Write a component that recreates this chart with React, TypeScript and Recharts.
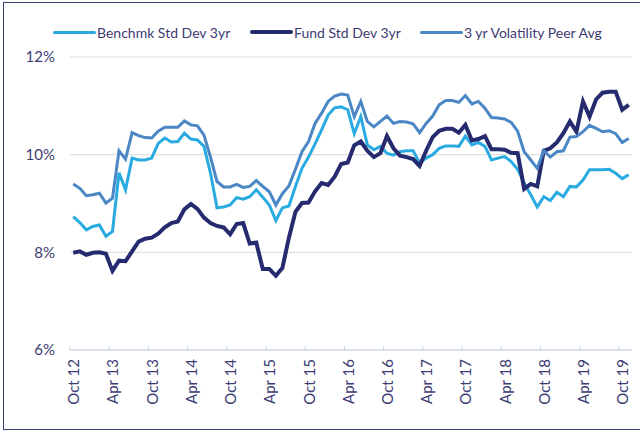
import React from 'react';
import { LineChart, Line, XAxis, YAxis, CartesianGrid, Legend } from 'recharts';

// monthly, Oct 12 .. Nov 19
const months = [
  'Oct 12', 'Nov 12', 'Dec 12',
  'Jan 13', 'Feb 13', 'Mar 13', 'Apr 13', 'May 13', 'Jun 13', 'Jul 13', 'Aug 13', 'Sep 13', 'Oct 13', 'Nov 13', 'Dec 13',
  'Jan 14', 'Feb 14', 'Mar 14', 'Apr 14', 'May 14', 'Jun 14', 'Jul 14', 'Aug 14', 'Sep 14', 'Oct 14', 'Nov 14', 'Dec 14',
  'Jan 15', 'Feb 15', 'Mar 15', 'Apr 15', 'May 15', 'Jun 15', 'Jul 15', 'Aug 15', 'Sep 15', 'Oct 15', 'Nov 15', 'Dec 15',
  'Jan 16', 'Feb 16', 'Mar 16', 'Apr 16', 'May 16', 'Jun 16', 'Jul 16', 'Aug 16', 'Sep 16', 'Oct 16', 'Nov 16', 'Dec 16',
  'Jan 17', 'Feb 17', 'Mar 17', 'Apr 17', 'May 17', 'Jun 17', 'Jul 17', 'Aug 17', 'Sep 17', 'Oct 17', 'Nov 17', 'Dec 17',
  'Jan 18', 'Feb 18', 'Mar 18', 'Apr 18', 'May 18', 'Jun 18', 'Jul 18', 'Aug 18', 'Sep 18', 'Oct 18', 'Nov 18', 'Dec 18',
  'Jan 19', 'Feb 19', 'Mar 19', 'Apr 19', 'May 19', 'Jun 19', 'Jul 19', 'Aug 19', 'Sep 19', 'Oct 19', 'Nov 19',
];

const benchmark = [
  8.73, 8.61, 8.46, 8.53, 8.56, 8.33, 8.43, 9.63, 9.28, 9.93,
  9.89, 9.89, 9.93, 10.23, 10.34, 10.26, 10.27, 10.44, 10.32, 10.30,
  10.17, 9.62, 8.91, 8.93, 8.97, 9.12, 9.09, 9.14, 9.28, 9.13,
  8.97, 8.65, 8.91, 8.95, 9.35, 9.72, 9.95, 10.22, 10.51, 10.81,
  10.96, 10.98, 10.92, 10.43, 10.78, 10.20, 10.10, 10.17, 10.03, 9.99,
  10.06, 10.08, 10.08, 9.83, 9.93, 10.00, 10.13, 10.18, 10.18, 10.17,
  10.38, 10.20, 10.25, 10.17, 9.89, 9.93, 9.96, 9.86, 9.70, 9.42,
  9.18, 8.93, 9.14, 9.06, 9.23, 9.14, 9.35, 9.34, 9.48, 9.69,
  9.69, 9.69, 9.70, 9.62, 9.51, 9.59,
];

const fund = [
  7.99, 8.02, 7.95, 7.99, 8.00, 7.97, 7.62, 7.83, 7.82, 8.02,
  8.22, 8.28, 8.30, 8.38, 8.51, 8.60, 8.63, 8.88, 8.99, 8.89,
  8.71, 8.60, 8.54, 8.51, 8.37, 8.58, 8.60, 8.18, 8.20, 7.66,
  7.66, 7.52, 7.68, 8.30, 8.83, 9.01, 9.02, 9.25, 9.42, 9.38,
  9.55, 9.81, 9.84, 10.19, 10.27, 10.08, 9.95, 10.03, 10.38, 10.13,
  9.98, 9.95, 9.91, 9.77, 10.08, 10.36, 10.49, 10.53, 10.53, 10.45,
  10.61, 10.29, 10.32, 10.38, 10.11, 10.11, 10.10, 10.04, 10.03, 9.30,
  9.40, 9.35, 10.08, 10.13, 10.25, 10.44, 10.68, 10.47, 11.09, 10.78,
  11.13, 11.27, 11.29, 11.29, 10.92, 11.02,
];

const peerAvg = [
  9.40, 9.31, 9.16, 9.18, 9.21, 9.01, 9.11, 10.08, 9.91, 10.45,
  10.39, 10.35, 10.34, 10.48, 10.56, 10.56, 10.56, 10.69, 10.61, 10.59,
  10.40, 9.95, 9.45, 9.34, 9.34, 9.39, 9.33, 9.35, 9.47, 9.35,
  9.24, 8.97, 9.20, 9.36, 9.70, 10.06, 10.27, 10.64, 10.85, 11.09,
  11.20, 11.24, 11.22, 10.78, 11.09, 10.68, 10.57, 10.68, 10.79, 10.64,
  10.68, 10.67, 10.63, 10.45, 10.64, 10.79, 11.02, 11.11, 11.11, 11.07,
  11.21, 11.04, 11.09, 10.95, 10.76, 10.75, 10.73, 10.66, 10.48, 10.06,
  9.89, 9.72, 10.08, 9.95, 10.06, 10.08, 10.36, 10.37, 10.47, 10.60,
  10.54, 10.47, 10.49, 10.43, 10.25, 10.33,
];

const yTicks = [6, 8, 10, 12];

const TEXT = '#3d3b73';
const FONT = 'Lato, "DejaVu Sans", sans-serif';

const series = [
  { key: 'bench', name: 'Benchmk Std Dev 3yr', color: '#29abe2', width: 3 },
  { key: 'fund', name: 'Fund Std Dev 3yr', color: '#262a6e', width: 4 },
  { key: 'peer', name: '3 yr Volatility Peer Avg', color: '#4a87c4', width: 3 },
];

const data = months.map((m, i) => ({
  month: m,
  bench: benchmark[i],
  fund: fund[i],
  peer: peerAvg[i],
}));

const HALF_CAT = 562 / months.length / 2;

const XTick = (props: any) => {
  const { x, y, payload } = props;
  const ty = y + 9;
  return (
    <g>
      <line x1={x - HALF_CAT} x2={x - HALF_CAT} y1={y - 4} y2={y} stroke="#cbd7e6" />
      <text
        x={x}
        y={ty}
        transform={`rotate(-90, ${x}, ${ty})`}
        textAnchor="end"
        dominantBaseline="central"
        fill={TEXT}
        fontSize={15}
        fontFamily={FONT}
      >
        {payload.value}
      </text>
    </g>
  );
};

const legendLeft = [53, 250, 420];

const renderLegend = () => (
  <div style={{ position: 'relative', width: 640, height: 20, fontFamily: FONT }}>
    {series.map((s, i) => (
      <div
        key={s.key}
        style={{ position: 'absolute', left: legendLeft[i], top: 0, display: 'flex', alignItems: 'center', height: 20 }}
      >
        <span style={{ display: 'inline-block', width: 43, height: s.width, background: s.color, borderRadius: 2 }} />
        <span style={{ color: TEXT, fontSize: 14, marginLeft: 1, whiteSpace: 'nowrap' }}>{s.name}</span>
      </div>
    ))}
  </div>
);

export default function App() {
  return (
    <div style={{ position: 'absolute', left: 0, top: 0, width: 640, height: 430, background: '#fff' }}>
      <div
        style={{
          position: 'absolute', left: 3, top: 2, width: 640, height: 428,
          border: '1px solid #34406f', boxSizing: 'border-box',
        }}
      />
      <LineChart
        width={640}
        height={430}
        data={data}
        margin={{ top: 37, right: 8, left: 8, bottom: 10 }}
        style={{ fontFamily: FONT }}
      >
        <CartesianGrid vertical={false} stroke="#d9d9d9" />
        <XAxis
          dataKey="month"
          interval={5}
          tick={<XTick />}
          tickLine={false}
          tickSize={0}
          tickMargin={0}
          axisLine={{ stroke: '#cbd7e6' }}
          padding={{ left: HALF_CAT, right: HALF_CAT }}
          height={70}
        />
        <YAxis
          domain={[6, 12]}
          ticks={yTicks}
          tickFormatter={(v) => `${v}%`}
          axisLine={false}
          tickLine={false}
          tickSize={0}
          tickMargin={15}
          width={62}
          tick={{ fill: TEXT, fontSize: 15, fontFamily: FONT }}
        />
        <Legend verticalAlign="top" content={renderLegend} wrapperStyle={{ top: 22, left: 0, width: 640 }} />
        {series.map((s) => (
          <Line
            key={s.key}
            type="linear"
            dataKey={s.key}
            name={s.name}
            stroke={s.color}
            strokeWidth={s.width}
            dot={false}
            isAnimationActive={false}
          />
        ))}
      </LineChart>
    </div>
  );
}
